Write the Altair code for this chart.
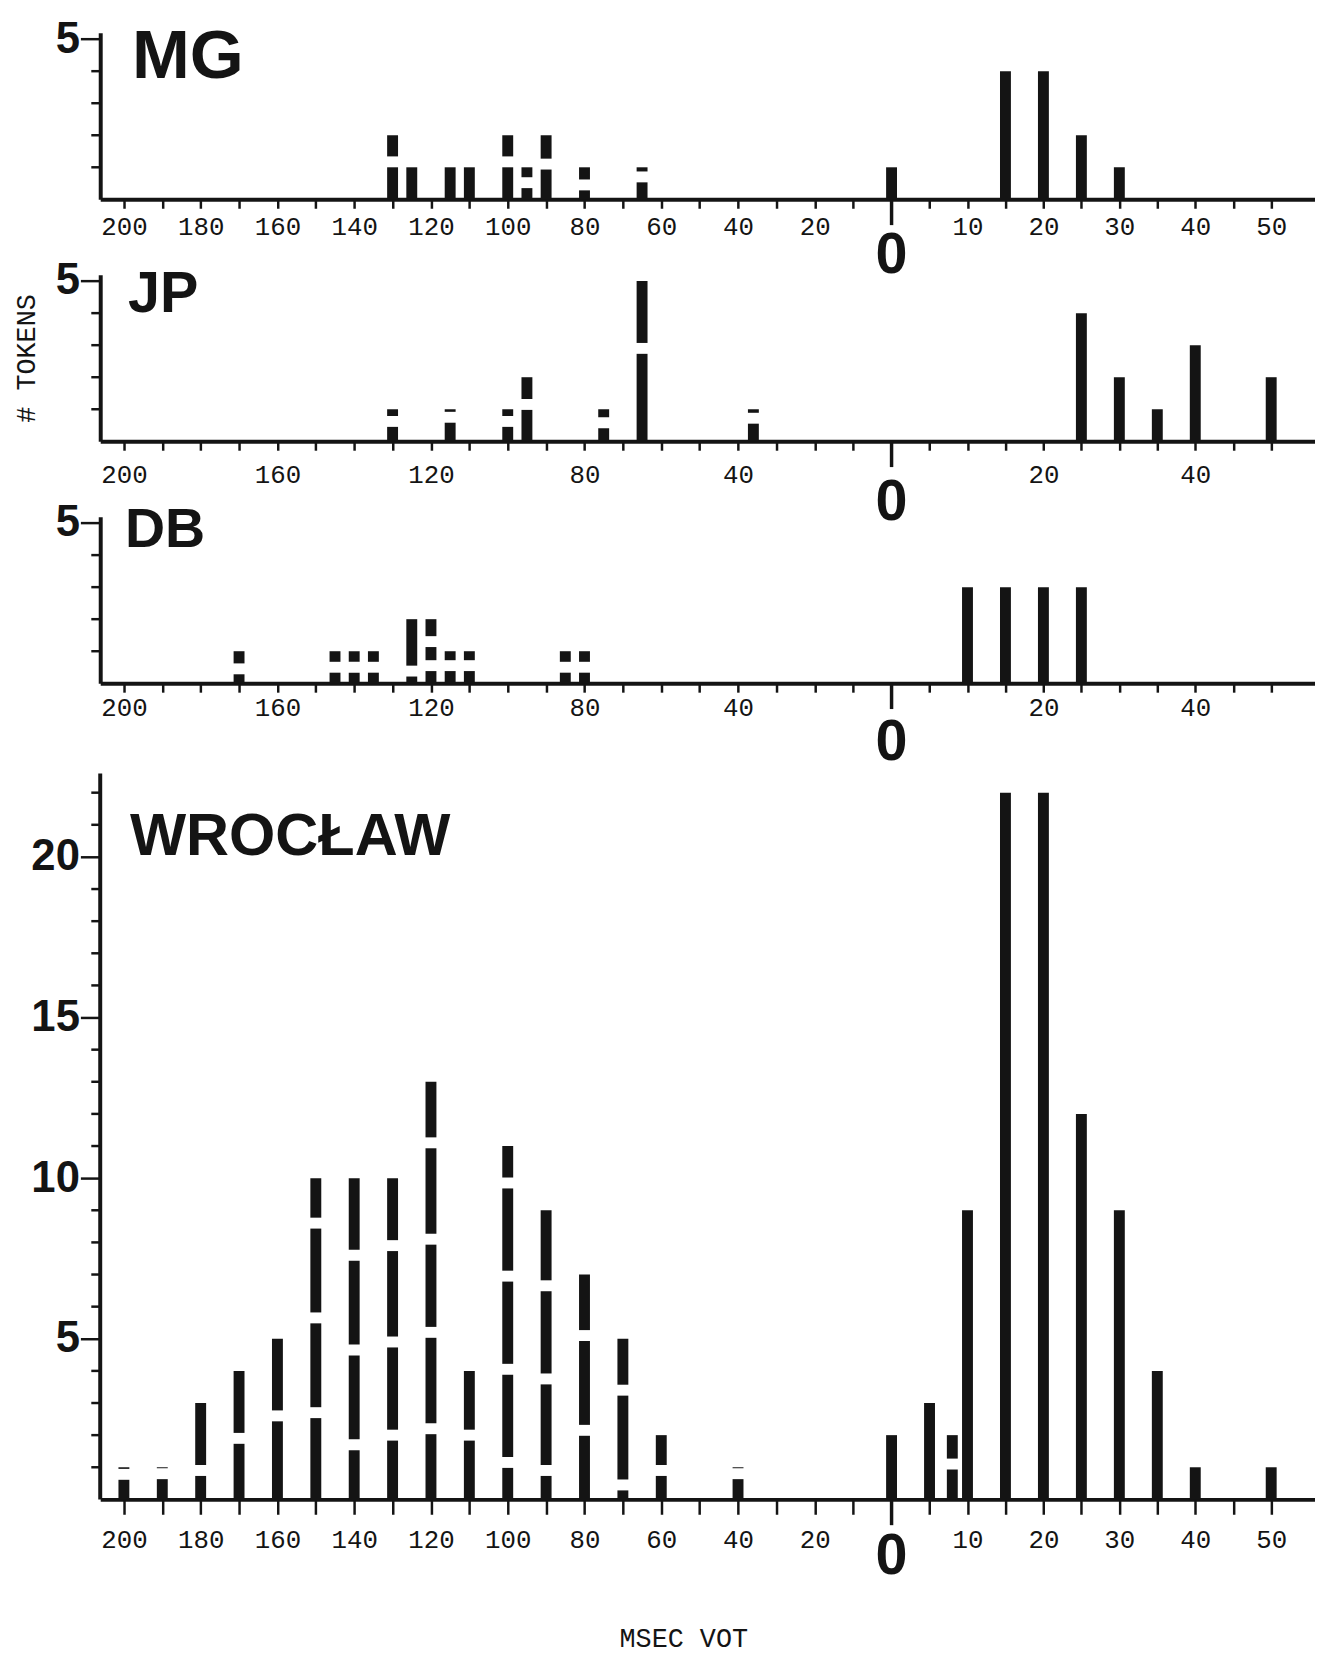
import altair as alt
import pandas as pd

# ---------------- data ----------------
PANEL_NAMES = ["MG", "JP", "DB", "WROCŁAW"]

# VOT in msec (negative = prevoicing, drawn with labels 200 ... 20), token counts
MG_VOT = [-130, -125, -115, -110, -100, -95, -90, -80, -65, 0, 15, 20, 25, 30]
MG_N = [2, 1, 1, 1, 2, 1, 2, 1, 1, 1, 4, 4, 2, 1]
MG_GAP_VOT = [-130, -100, -95, -90, -80, -65]
MG_GAP_Y = [1.17, 1.17, 0.52, 1.1, 0.45, 0.7]

JP_VOT = [-130, -115, -100, -95, -75, -65, -36, 25, 30, 35, 40, 50]
JP_N = [1, 1, 1, 2, 1, 5, 1, 4, 2, 1, 3, 2]
JP_GAP_VOT = [-130, -115, -100, -95, -75, -65, -36]
JP_GAP_Y = [0.62, 0.75, 0.62, 1.15, 0.58, 2.9, 0.72]

DB_VOT = [-170, -145, -140, -135, -125, -120, -115, -110, -85, -80, 10, 15, 20, 25]
DB_N = [1, 1, 1, 1, 2, 2, 1, 1, 1, 1, 3, 3, 3, 3]
DB_GAP_VOT = [-170, -145, -140, -135, -125, -120, -120, -115, -110, -85, -80]
DB_GAP_Y = [0.45, 0.5, 0.5, 0.5, 0.38, 0.55, 1.3, 0.55, 0.55, 0.5, 0.5]

WR_VOT = [-200, -190, -180, -170, -160, -150, -140, -130, -120, -110, -100, -90, -80,
          -70, -60, -40, 0, 5, 8, 10, 15, 20, 25, 30, 35, 40, 50]
WR_N = [1, 1, 3, 4, 5, 10, 10, 10, 13, 4, 11, 9, 7, 5, 2, 1, 2, 3, 2, 9, 22, 22, 12,
        9, 4, 1, 1]
WR_GAP_VOT = [-200, -190, -180, -170, -160, -150, -150, -150, -140, -140, -140, -130,
              -130, -130, -120, -120, -120, -120, -110, -100, -100, -100, -100, -90,
              -90, -90, -80, -80, -70, -70, -60, -40, 8]
WR_GAP_Y = [0.78, 0.8, 0.9, 1.9, 2.6, 2.7, 5.65, 8.6, 1.7, 4.65, 7.6, 2.0, 4.9, 7.9,
            2.2, 5.2, 8.1, 11.1, 2.0, 1.15, 4.05, 6.95, 9.85, 0.9, 3.75, 6.65, 2.15,
            5.1, 0.45, 3.4, 0.9, 0.8, 1.1]

X_TICKS = list(range(-200, 0, 10)) + list(range(5, 55, 5))
LABELS_FULL = list(range(-200, 0, 20)) + [10, 20, 30, 40, 50]
LABELS_SPARSE = [-200, -160, -120, -80, -40, 20, 40]

ZERO = [0]
X_TITLE = "MSEC   VOT"
Y_TITLE = "# TOKENS"

INK = "#141414"
PLOT_W = 1225
UNIT = 32.4


def make_panel(name, vot, n, gvot, gy, labels, ymax, ytop, ymajor, name_size, name_x,
               name_y, xtick, xpad, zero_dy, ytitle=None, xtitle=None):
    height = round(ymax * UNIT)
    xscale = alt.Scale(domain=[-205.1, 0, 54.7], range=[0, 798, PLOT_W],
                       nice=False, zero=False)
    yscale = alt.Scale(domain=[0, ymax], nice=False, zero=False)

    lab_list = ",".join(str(v) for v in labels)
    xaxis_kw = dict(
        values=X_TICKS,
        labelExpr=f"indexof([{lab_list}], datum.value) >= 0 ? '' + abs(datum.value) : ''",
        tickSize=xtick, tickWidth=2.5, domainWidth=4, labelPadding=xpad,
        labelFont="Liberation Mono", labelFontSize=26, labelOverlap=False,
        labelFlush=False, labelBound=False, grid=False,
    )
    if xtitle:
        xaxis_kw.update(title=xtitle, titleX=588, titleY=148, titleFont="Liberation Mono",
                        titleFontSize=27, titleFontWeight="normal",
                        titleBaseline="alphabetic", titleAlign="center")
    else:
        xaxis_kw.update(title=None)

    # y axis: only the labelled (major) ticks; minor ticks drawn as a rule layer
    yaxis_kw = dict(
        values=ymajor,
        tickSize=20, tickWidth=2.5, domainWidth=4, labelPadding=1,
        labelFont="Liberation Sans", labelFontSize=44, labelFontWeight="bold",
        labelOverlap=False, labelBound=False, labelFlush=False, grid=False,
        domain=(ytop >= ymax),
    )
    if ytitle:
        yaxis_kw.update(title=ytitle, titleX=-74, titleY=height / 2, titleAngle=-90,
                        titleAlign="center", titleBaseline="middle",
                        titleFont="Liberation Mono", titleFontSize=27,
                        titleFontWeight="normal")
    else:
        yaxis_kw.update(title=None)

    bars_df = pd.DataFrame({"vot": vot, "n": n, "base": [0] * len(vot)})
    bars = alt.Chart(bars_df).mark_bar(size=11, color=INK, orient="vertical").encode(
        x=alt.X("vot:Q", scale=xscale, axis=alt.Axis(**xaxis_kw)),
        y=alt.Y("n:Q", scale=yscale, axis=alt.Axis(**yaxis_kw)),
        y2="base:Q",
    )

    gap_df = pd.DataFrame({"vot": gvot, "g": gy})
    gaps = alt.Chart(gap_df).mark_bar(size=14, color="white", orient="vertical").transform_calculate(
        lo="datum.g - 0.17", hi="datum.g + 0.17"
    ).encode(
        x=alt.X("vot:Q", scale=xscale),
        y=alt.Y("lo:Q", scale=yscale),
        y2="hi:Q",
    )

    zdf = pd.DataFrame({"vot": ZERO})
    ztick = alt.Chart(zdf).mark_rule(color=INK, strokeWidth=3.5).encode(
        x=alt.X("vot:Q", scale=xscale),
        y=alt.value(height), y2=alt.value(height + 26),
    )
    zlabel = alt.Chart(zdf).mark_text(
        font="Liberation Sans", fontSize=58, fontWeight="bold", color=INK,
        baseline="top", align="center"
    ).encode(
        x=alt.X("vot:Q", scale=xscale),
        y=alt.value(height + zero_dy),
        text=alt.Text("vot:Q"),
    )

    minor_vals = [v for v in range(1, int(ytop) + 1) if v not in ymajor]
    mdf = pd.DataFrame({"m": minor_vals})
    minors = alt.Chart(mdf).mark_rule(color=INK, strokeWidth=2.5).encode(
        y=alt.Y("m:Q", scale=yscale),
        x=alt.value(-9), x2=alt.value(0),
    )

    ndf = pd.DataFrame({"name": [name]})
    title = alt.Chart(ndf).mark_text(
        font="Liberation Sans", fontSize=name_size, fontWeight="bold", color=INK,
        align="left", baseline="alphabetic"
    ).encode(x=alt.value(name_x), y=alt.value(name_y), text="name:N")

    layers = [bars, gaps, ztick, zlabel, minors, title]
    if ytop < ymax:
        adf = pd.DataFrame({"lo": [0], "hi": [ytop]})
        layers.append(alt.Chart(adf).mark_rule(color=INK, strokeWidth=4).encode(
            x=alt.value(0), y=alt.Y("lo:Q", scale=yscale), y2="hi:Q"))

    return alt.layer(*layers).properties(width=PLOT_W, height=height)


mg = make_panel(PANEL_NAMES[0], MG_VOT, MG_N, MG_GAP_VOT, MG_GAP_Y, LABELS_FULL,
                5.2, 5.2, [5], 70, 32, 46, 9, 5, 28)
jp = make_panel(PANEL_NAMES[1], JP_VOT, JP_N, JP_GAP_VOT, JP_GAP_Y, LABELS_SPARSE,
                5.2, 5.2, [5], 58, 28, 38, 9, 12, 33, ytitle=Y_TITLE)
db = make_panel(PANEL_NAMES[2], DB_VOT, DB_N, DB_GAP_VOT, DB_GAP_Y, LABELS_SPARSE,
                5.2, 5.2, [5], 56, 25, 31, 9, 3, 31)
wr = make_panel(PANEL_NAMES[3], WR_VOT, WR_N, WR_GAP_VOT, WR_GAP_Y, LABELS_FULL,
                23.06, 22.6, [5, 10, 15, 20], 60, 30, 97, 15, 13, 29, xtitle=X_TITLE)

chart = alt.vconcat(mg, jp, db, wr, spacing=76, bounds="flush").properties(
    padding={"left": 4, "top": 2, "right": 0, "bottom": 0},
    background="white",
).configure_view(stroke=None).configure_axis(
    labelColor=INK, tickColor=INK, domainColor=INK, titleColor=INK
)

chart.save("out.html", embed_options={"renderer": "svg", "actions": False})
